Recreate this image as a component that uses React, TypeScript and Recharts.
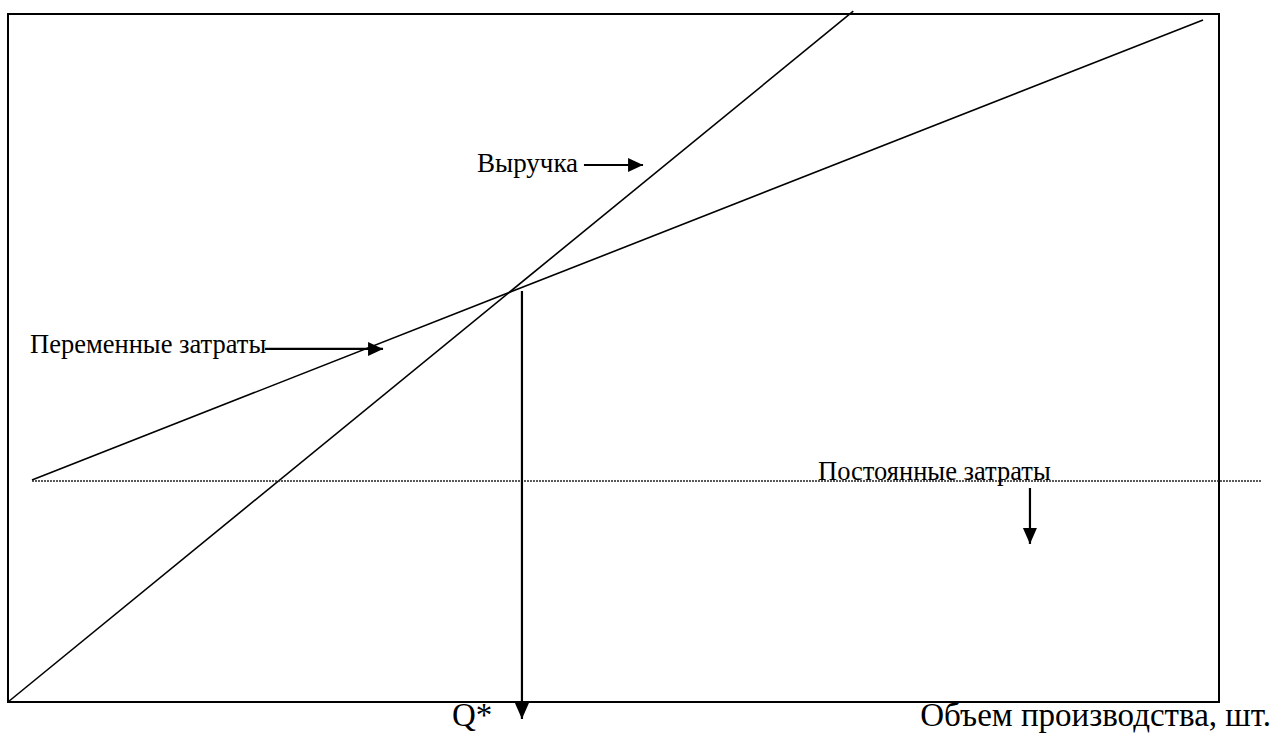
import React from 'react';
import { ComposedChart, Line, XAxis, YAxis, ReferenceArea, ReferenceDot } from 'recharts';

// Box spans 0..100 on both axes
const revenue = [ { x: 0, y: 0 }, { x: 69.8, y: 100.4 } ];
const variableCosts = [ { x: 1.98, y: 32.27 }, { x: 98.68, y: 99.13 } ];
const fixedCosts = [ { x: 1.98, y: 32.12 }, { x: 103.47, y: 32.12 } ];
const qArrow = [ { x: 42.44, y: 59.74 }, { x: 42.44, y: -2.47 } ];
const revenueArrow = [ { x: 47.56, y: 78.05 }, { x: 52.44, y: 78.05 } ];
const variableArrow = [ { x: 21.22, y: 51.31 }, { x: 30.97, y: 51.31 } ];
const fixedArrow = [ { x: 84.39, y: 31.1 }, { x: 84.39, y: 22.97 } ];

const labels = [
  { x: 38.73, y: 77.03, text: 'Выручка', anchor: 'start', size: 27 },
  { x: 1.82, y: 50.73, text: 'Переменные затраты', anchor: 'start', size: 26.5 },
  { x: 66.89, y: 32.27, text: 'Постоянные затраты', anchor: 'start', size: 26.5 },
  { x: 36.66, y: -3.5, text: 'Q*', anchor: 'start', size: 33 },
  { x: 104.29, y: -3.5, text: 'Объем производства, шт.', anchor: 'end', size: 33 },
];

const X_DOMAIN: [number, number] = [-0.6606, 105.12];
const Y_DOMAIN: [number, number] = [-4.942, 102.03];

const FONT = "'Liberation Serif', 'Times New Roman', serif";

const arrowDot = (dir: 'right' | 'down', last: number) => (p: any) => {
  const { cx, cy, index } = p;
  if (index !== last) return <g key={`d${index}`} />;
  const d =
    dir === 'right'
      ? `M${cx},${cy} L${cx - 15},${cy - 7} L${cx - 15},${cy + 7} Z`
      : `M${cx},${cy} L${cx - 7},${cy - 16} L${cx + 7},${cy - 16} Z`;
  return <path key={`d${index}`} d={d} fill="#000" stroke="none" />;
};

export default function App() {
  return (
    <div style={{ position: 'absolute', left: 0, top: 0, width: 1281, height: 736, background: '#fff' }}>
      <ComposedChart width={1281} height={736} margin={{ top: 0, right: 0, bottom: 0, left: 0 }}>
        <XAxis type="number" dataKey="x" domain={X_DOMAIN} hide />
        <YAxis type="number" dataKey="y" domain={Y_DOMAIN} hide />
        <ReferenceArea x1={0} x2={100} y1={0} y2={100} fill="none" stroke="#000" strokeWidth={2} ifOverflow="visible" />
        <Line data={revenue} dataKey="y" stroke="#000" strokeWidth={1.6} dot={false} activeDot={false} isAnimationActive={false} />
        <Line data={variableCosts} dataKey="y" stroke="#000" strokeWidth={1.6} dot={false} activeDot={false} isAnimationActive={false} />
        <Line data={fixedCosts} dataKey="y" stroke="#222" strokeWidth={1.5} strokeDasharray="2 1" dot={false} activeDot={false} isAnimationActive={false} />
        <Line data={qArrow} dataKey="y" stroke="#000" strokeWidth={2.2} dot={arrowDot('down', 1)} activeDot={false} isAnimationActive={false} />
        <Line data={revenueArrow} dataKey="y" stroke="#000" strokeWidth={2.2} dot={arrowDot('right', 1)} activeDot={false} isAnimationActive={false} />
        <Line data={variableArrow} dataKey="y" stroke="#000" strokeWidth={2.2} dot={arrowDot('right', 1)} activeDot={false} isAnimationActive={false} />
        <Line data={fixedArrow} dataKey="y" stroke="#000" strokeWidth={2.2} dot={arrowDot('down', 1)} activeDot={false} isAnimationActive={false} />
        {labels.map((l) => (
          <ReferenceDot
            key={l.text}
            x={l.x}
            y={l.y}
            r={0}
            fill="none"
            stroke="none"
            ifOverflow="visible"
            label={{
              content: (props: any) => (
                <text
                  x={props.viewBox.x}
                  y={props.viewBox.y}
                  textAnchor={l.anchor as any}
                  style={{ fontFamily: FONT, fontSize: l.size }}
                  fill="#000"
                >
                  {l.text}
                </text>
              ),
            }}
          />
        ))}
      </ComposedChart>
    </div>
  );
}
